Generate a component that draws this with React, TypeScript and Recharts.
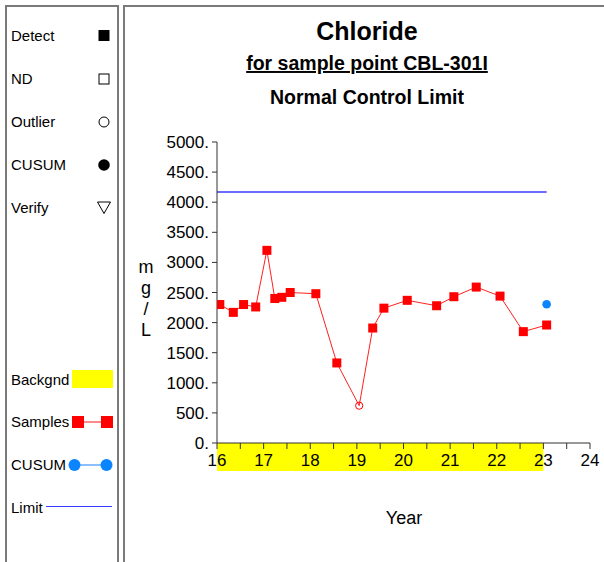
import React from "react";
import {
  ComposedChart,
  Line,
  Scatter,
  XAxis,
  YAxis,
  ReferenceArea,
} from "recharts";

// ---- data ----
const sampleYears = [
  16.06, 16.35, 16.57, 16.83, 17.07, 17.24, 17.39, 17.57, 18.12, 18.57,
  19.05, 19.34, 19.58, 20.08, 20.71, 21.08, 21.56, 22.07, 22.57, 23.07,
];
const sampleValues = [
  2300, 2170, 2300, 2260, 3200, 2400, 2420, 2500, 2480, 1330,
  620, 1910, 2240, 2370, 2280, 2430, 2590, 2440, 1850, 1960,
];
const sampleOutlier = [
  false, false, false, false, false, false, false, false, false, false,
  true, false, false, false, false, false, false, false, false, false,
];
const cusumYears = [23.07];
const cusumValues = [2305];
const limitYears = [16, 23.07];
const limitValue = 4170;
const backgroundYears = [16, 23];
const xTicks = [16, 16.5, 17, 17.5, 18, 18.5, 19, 19.5, 20, 20.5, 21, 21.5, 22, 22.5, 23, 23.5, 24];
const yTicks = [0, 500, 1000, 1500, 2000, 2500, 3000, 3500, 4000, 4500, 5000];

const title = "Chloride";
const subtitle = "for sample point CBL-301I";
const subtitle2 = "Normal Control Limit";
const yLabelChars = ["m", "g", "/", "L"];
const xLabel = "Year";
const legendTop = ["Detect", "ND", "Outlier", "CUSUM", "Verify"];
const legendBottom = ["Backgnd", "Samples", "CUSUM", "Limit"];

const samples = sampleYears.map((x, i) => ({ x, y: sampleValues[i], outlier: sampleOutlier[i] }));
const cusum = cusumYears.map((x, i) => ({ x, y: cusumValues[i] }));
const limit = limitYears.map((x) => ({ x, y: limitValue }));

const FONT = "'Liberation Sans', Arial, sans-serif";
const W = 604;
const H = 562;
const LIMIT_BLUE = "#3a3aff";

const SampleDot = (props: any) => {
  const { cx, cy, payload, index } = props;
  if (cx == null || cy == null) return <g key={index} />;
  if (payload && payload.outlier) {
    return <circle key={index} cx={cx} cy={cy} r={3.6} fill="none" stroke="#ff0000" strokeWidth={1} />;
  }
  return <rect key={index} x={cx - 4.5} y={cy - 4.5} width={9} height={9} fill="#ff0000" />;
};

const CusumDot = (props: any) => {
  const { cx, cy } = props;
  return <circle cx={cx} cy={cy} r={4.3} fill="#0a84ff" />;
};

const Overlay = () => {
  const topY = [35.5, 79, 122, 165, 207.5];
  const botY = [380, 422, 465, 508];
  return (
    <svg
      width={W}
      height={H}
      style={{ position: "absolute", left: 0, top: 0, pointerEvents: "none" }}
      fontFamily={FONT}
    >
      {/* panels */}
      <rect x={6} y={6} width={112} height={H + 10} fill="none" stroke="#7a7a7a" strokeWidth={2} />
      <line x1={124} y1={5} x2={124} y2={H} stroke="#222" strokeWidth={1.2} />
      <line x1={124} y1={6} x2={W} y2={6} stroke="#7a7a7a" strokeWidth={2} />

      {/* legend top */}
      {legendTop.map((t, i) => (
        <text key={t} x={11} y={topY[i] + 5.3} fontSize={15} fill="#000">
          {t}
        </text>
      ))}
      <rect x={98.5} y={topY[0] - 5.5} width={11} height={11} fill="#000" />
      <rect x={99} y={topY[1] - 5} width={10} height={10} fill="none" stroke="#000" strokeWidth={1} />
      <circle cx={104} cy={topY[2]} r={5} fill="none" stroke="#000" strokeWidth={1} />
      <circle cx={104} cy={topY[3]} r={5.8} fill="#000" />
      <path
        d={`M ${97.5} ${topY[4] - 5.5} L ${110.5} ${topY[4] - 5.5} L ${104} ${topY[4] + 6} Z`}
        fill="none"
        stroke="#000"
        strokeWidth={1}
      />

      {/* legend bottom */}
      {legendBottom.map((t, i) => (
        <text key={t + i} x={11} y={botY[i] + 5.3} fontSize={15} fill="#000">
          {t}
        </text>
      ))}
      <rect x={72} y={370} width={41} height={18} fill="#ffff00" />
      <line x1={78} y1={botY[1]} x2={107} y2={botY[1]} stroke="#ff6060" strokeWidth={1.5} />
      <rect x={72} y={botY[1] - 6} width={12} height={12} fill="#ff0000" />
      <rect x={101} y={botY[1] - 6} width={12} height={12} fill="#ff0000" />
      <line x1={74} y1={botY[2]} x2={106} y2={botY[2]} stroke="#66aaff" strokeWidth={1.5} />
      <circle cx={74.5} cy={botY[2]} r={6} fill="#0a84ff" />
      <circle cx={106.5} cy={botY[2]} r={6} fill="#0a84ff" />
      <line x1={46} y1={botY[3] - 1.5} x2={112} y2={botY[3] - 1.5} stroke={LIMIT_BLUE} strokeWidth={1} />

      {/* titles */}
      <text x={367} y={40} fontSize={25} fontWeight="bold" textAnchor="middle" fill="#000">
        {title}
      </text>
      <text x={367} y={70} fontSize={19.5} fontWeight="bold" textAnchor="middle" fill="#000" textDecoration="underline">
        {subtitle}
      </text>
      <text x={367} y={104} fontSize={19.5} fontWeight="bold" textAnchor="middle" fill="#000">
        {subtitle2}
      </text>

      {/* y label stacked */}
      {yLabelChars.map((c, i) => (
        <text key={c + i} x={146} y={273 + i * 21} fontSize={18} textAnchor="middle" fill="#000">
          {c}
        </text>
      ))}
      {/* x label */}
      <text x={404} y={524} fontSize={18} textAnchor="middle" fill="#000">
        {xLabel}
      </text>
    </svg>
  );
};

export default function App() {
  return (
    <div style={{ position: "absolute", left: 0, top: 0, width: W, height: H, background: "#fff" }}>
      <ComposedChart
        width={W}
        height={H}
        margin={{ top: 142, right: 14, bottom: 89, left: 157 }}
        style={{ fontFamily: FONT }}
      >
        <XAxis
          type="number"
          dataKey="x"
          domain={[16, 24]}
          ticks={xTicks}
          allowDataOverflow
          height={30}
          tickSize={6}
          tickMargin={5}
          tickFormatter={(v: number) => (Number.isInteger(v) ? String(v) : "")}
          tick={{ fontSize: 17, fill: "#000", fontFamily: FONT }}
          axisLine={{ stroke: "#333" }}
          tickLine={{ stroke: "#333" }}
          interval={0}
        />
        <YAxis
          type="number"
          dataKey="y"
          domain={[0, 5000]}
          ticks={yTicks}
          width={60}
          tickSize={5}
          tickMargin={3}
          tickFormatter={(v: number) => `${v}.`}
          tick={{ fontSize: 17, fill: "#000", fontFamily: FONT }}
          axisLine={{ stroke: "#333" }}
          tickLine={{ stroke: "#333" }}
          interval={0}
        />
        <ReferenceArea
          x1={backgroundYears[0]}
          x2={backgroundYears[1]}
          y1={-465}
          y2={0}
          ifOverflow="visible"
          fill="#ffff00"
          fillOpacity={1}
          stroke="none"
        />
        <Line
          data={limit}
          dataKey="y"
          stroke={LIMIT_BLUE}
          strokeWidth={1.5}
          dot={false}
          isAnimationActive={false}
        />
        <Line
          data={samples}
          dataKey="y"
          stroke="#ff2020"
          strokeWidth={1}
          dot={SampleDot}
          activeDot={false}
          isAnimationActive={false}
        />
        <Scatter data={cusum} dataKey="y" shape={CusumDot} isAnimationActive={false} />
      </ComposedChart>
      <Overlay />
    </div>
  );
}
